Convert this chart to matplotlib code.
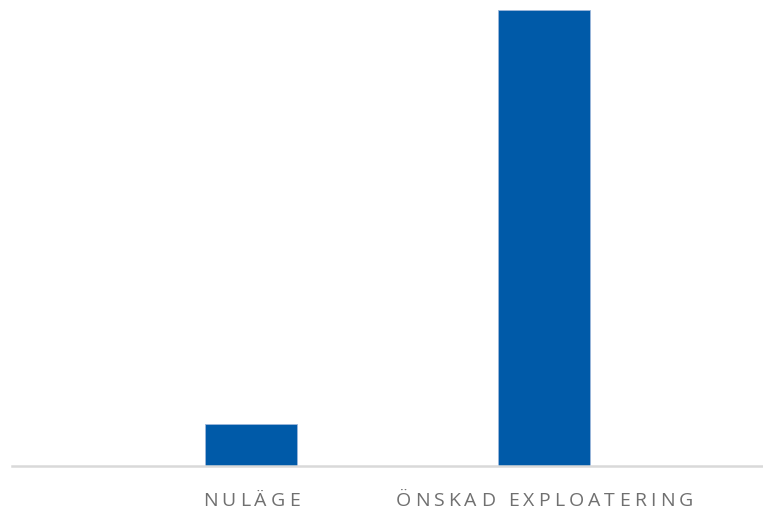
import matplotlib
matplotlib.use("Agg")
import matplotlib.pyplot as plt
from matplotlib.font_manager import FontProperties, findfont, get_font

categories = ["NULÄGE", "ÖNSKAD EXPLOATERING"]
values = [0.92, 10.0]

W, H, DPI = 763, 509, 100
fig = plt.figure(figsize=(W / DPI, H / DPI), dpi=DPI)
ax = fig.add_axes([12 / W, 43 / H, 751 / W, 456 / H])

x = list(range(len(categories)))
ax.bar(x, values, width=0.315, color="#005AA8", edgecolor="#9DB7DB", linewidth=0.6)

ax.set_xlim(-0.816, 1.747)
ax.set_ylim(0, values[1])

for side in ["top", "right", "left"]:
    ax.spines[side].set_visible(False)
ax.spines["bottom"].set_color("#D9D9D9")
ax.spines["bottom"].set_linewidth(1.8)
ax.set_yticks([])
ax.set_xticks([])

# category labels with letter spacing, drawn char by char
fsize = 14
tracking = 4.1  # px between letters
fp = FontProperties(family="Open Sans", size=fsize)
font = get_font(findfont(fp))
font.set_size(fsize, DPI)

for xi, label in zip(x, categories):
    advs = [font.load_char(ord(c)).linearHoriAdvance / 65536 for c in label]
    total = sum(advs) + tracking * (len(label) - 1)
    cx = ax.transData.transform((xi, 0))[0]
    px = cx - total / 2
    for c, a in zip(label, advs):
        fig.text(px / W, 2.5 / H, c, fontproperties=fp, color="#707070",
                 ha="left", va="baseline")
        px += a + tracking

fig.savefig("out.png", dpi=DPI)
